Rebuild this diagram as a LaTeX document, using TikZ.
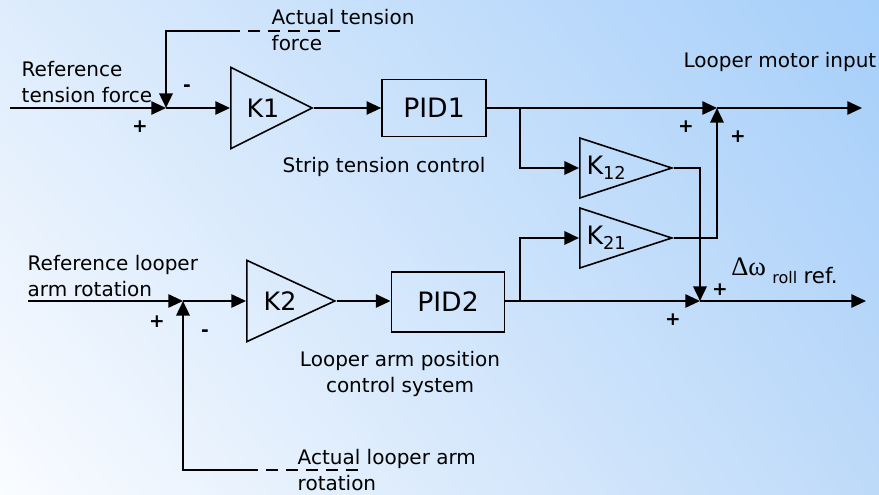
\documentclass[tikz,border=0pt]{standalone}
\usepackage{fontspec}
\setmainfont{DejaVu Sans}
\newfontfamily\greekserif{Liberation Serif}
\usetikzlibrary{positioning, arrows.meta, shapes.geometric, shadings}
\definecolor{bgul}{RGB}{222,236,252}
\definecolor{bgur}{RGB}{166,207,250}
\definecolor{bgll}{RGB}{250,252,255}
\definecolor{bglr}{RGB}{190,218,249}

\begin{document}
\begin{tikzpicture}[x=0.75pt, y=-0.75pt,
		sig/.style={line width=1.3pt, -{Triangle[length=11pt, width=10pt]}},
		fbline/.style={line width=1.9pt},
		fbdash/.style={line width=1.3pt, dash pattern=on 9pt off 6pt},
		gain/.style={draw, line width=1.2pt, isosceles triangle, isosceles triangle stretches, shape border rotate=0, inner sep=0pt, anchor=lower side, font=\fontsize{19}{22}\selectfont},
		block/.style={draw, line width=1.2pt, rectangle, font=\fontsize{20}{22}\selectfont},
		lbl/.style={font=\fontsize{15}{19.5}\selectfont},
		sgn/.style={font=\fontsize{14}{14}\selectfont\bfseries}]
	\useasboundingbox (0,0) rectangle (879,495);
	\shade[upper left=bgul, upper right=bgur, lower left=bgll, lower right=bglr] (0,0) rectangle (879,495);
	
	\coordinate (in1) at (10,108);
	\coordinate (s1) at (166,108);
	\coordinate (s3) at (717,108);
	\coordinate (out1) at (862,108);
	\coordinate (b1) at (520,108);
	\coordinate (in2) at (28,301);
	\coordinate (s4) at (183,301);
	\coordinate (s2) at (700,301);
	\coordinate (out2) at (866,301);
	\coordinate (b2) at (520,301);
	\coordinate (f1) at (228,31);
	\coordinate (f1e) at (345,31);
	\coordinate (f2) at (246,470);
	\coordinate (f2e) at (365,470);
	
	\node[gain, minimum height=61pt, minimum width=61pt] (k1) at (230,108) {\hspace*{7pt}K1};
	\node[block, minimum width=78pt, minimum height=43pt] (pid1) at (434,108) {PID1};
	\node[gain, minimum height=69pt, minimum width=44pt] (k12) at (579,168) {\hspace*{3pt}K\textsubscript{12}};
	\node[gain, minimum height=69pt, minimum width=44pt] (k21) at (579,238) {\hspace*{3pt}K\textsubscript{21}};
	\node[gain, minimum height=66pt, minimum width=61pt] (k2) at (246,301) {\hspace*{7pt}K2};
	\node[block, minimum width=85pt, minimum height=45pt] (pid2) at (448,302) {PID2};
	
	\draw[sig] (in1) -- (s1);
	\draw[sig] (s1) -- (k1.lower side);
	\draw[sig] (k1.apex) -- (pid1.west);
	\draw[sig] (pid1.east) -- (s3);
	\draw[sig] (s3) -- (out1);
	\draw[sig, fbline] (b1) |- (k12.lower side);
	\draw[sig, fbline] (k12.apex) -| (s2);
	\draw[sig, fbline] (k21.apex) -| (s3);
	\draw[sig, fbline] (b2) |- (k21.lower side);
	\draw[sig, fbline] (f1) -| (s1);
	\draw[fbdash] (f1) -- (f1e);
	
	\draw[sig] (in2) -- (s4);
	\draw[sig] (s4) -- (k2.lower side);
	\draw[sig] (k2.apex) -- (pid2.west |- s4);
	\draw[sig] (pid2.east |- s4) -- (s2);
	\draw[sig] (s2) -- (out2);
	\draw[sig, fbline] (f2) -| (s4);
	\draw[fbdash] (f2) -- (f2e);
	
	\node[lbl, align=left, anchor=west] (reft) at (17,82) {Reference\\tension force};
	\node[lbl, align=left, anchor=west] (actt) at (267,30) {Actual tension\\force};
	\node[lbl, anchor=east] (motor) at (881,62) {Looper motor input};
	\node[lbl] (stc) at (384,167) {Strip tension control};
	\node[lbl, align=left, anchor=west] (refl) at (23,276) {Reference looper\\arm rotation};
	\node[lbl, align=center] (lapc) at (400,374) {Looper arm position\\control system};
	\node[lbl, align=left, anchor=west] (actl) at (293,470) {Actual looper arm\\rotation};
	\node[lbl, anchor=base west, inner sep=0pt] (dw) at (731,284) {\raisebox{6pt}{\greekserif\fontsize{20}{20}\selectfont Δω} {\fontsize{12}{12}\selectfont roll} {\fontsize{16}{16}\selectfont ref.}};
	
	\node[sgn] (p1) at (140,127) {+};
	\node[sgn] (m1) at (187,88) {-};
	\node[sgn] (p2) at (686,127) {+};
	\node[sgn] (p3) at (738,137) {+};
	\node[sgn] (p4) at (720,290) {+};
	\node[sgn] (p5) at (673,320) {+};
	\node[sgn] (p6) at (157,322) {+};
	\node[sgn] (m2) at (205,333) {-};
\end{tikzpicture}
\end{document}
